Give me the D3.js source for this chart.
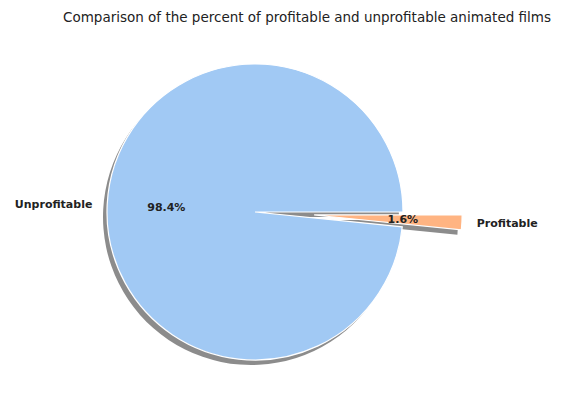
<!DOCTYPE html>
<html><head><meta charset="utf-8">
<script src="https://cdn.jsdelivr.net/npm/d3@7"></script>
<style>body{margin:0;background:#fff}</style></head>
<body><svg id="c" width="585" height="410"></svg>
<script>
const labels = ["Unprofitable", "Profitable"];
const values = [98.4, 1.6];
const explode = [0, 0.4];
const colors = ["#a1c9f4", "#ffb482"];

const svg = d3.select("#c");
const cx = 255, cy = 212, R = 148;
const font = "DejaVu Sans, sans-serif";

svg.append("text").attr("x", 307).attr("y", 22).attr("text-anchor", "middle")
  .attr("font-family", font).attr("font-size", 13.5).attr("fill", "#222")
  .text("Comparison of the percent of profitable and unprofitable animated films");

const total = d3.sum(values);
let acc = 0;
const slices = values.map((v, i) => {
  const a0 = acc / total * 2 * Math.PI; acc += v;
  const a1 = acc / total * 2 * Math.PI;
  return {i, a0, a1, mid: (a0 + a1) / 2};
});
const arc = d3.arc().innerRadius(0).outerRadius(R);
function off(s){ return [Math.cos(s.mid) * explode[s.i] * R, -Math.sin(s.mid) * explode[s.i] * R]; }

const g = svg.append("g").attr("transform", `translate(${cx},${cy})`);
slices.forEach(s => {
  const [dx, dy] = off(s);
  g.append("path").attr("d", arc({startAngle: Math.PI/2 - s.a1, endAngle: Math.PI/2 - s.a0}))
    .attr("transform", `translate(${dx - 4},${dy + 5})`).attr("fill", "#000").attr("opacity", 0.45);
});
slices.forEach(s => {
  const [dx, dy] = off(s);
  g.append("path").attr("d", arc({startAngle: Math.PI/2 - s.a1, endAngle: Math.PI/2 - s.a0}))
    .attr("transform", `translate(${dx},${dy})`).attr("fill", colors[s.i])
    .attr("stroke", "#fff").attr("stroke-width", 1.2);
});
slices.forEach(s => {
  const [dx, dy] = off(s);
  const c = Math.cos(s.mid), sn = -Math.sin(s.mid);
  g.append("text").attr("x", dx + c * 1.1 * R).attr("y", dy + sn * 1.1 * R)
    .attr("dy", "0.35em").attr("text-anchor", c < 0 ? "end" : "start")
    .attr("font-family", font).attr("font-size", 11).attr("font-weight", "bold").attr("fill", "#222")
    .text(labels[s.i]);
  g.append("text").attr("x", dx + c * 0.6 * R).attr("y", dy + sn * 0.6 * R)
    .attr("dy", "0.35em").attr("text-anchor", "middle")
    .attr("font-family", font).attr("font-size", 11).attr("font-weight", "bold").attr("fill", "#222")
    .text(values[s.i].toFixed(1) + "%");
});
</script></body></html>
